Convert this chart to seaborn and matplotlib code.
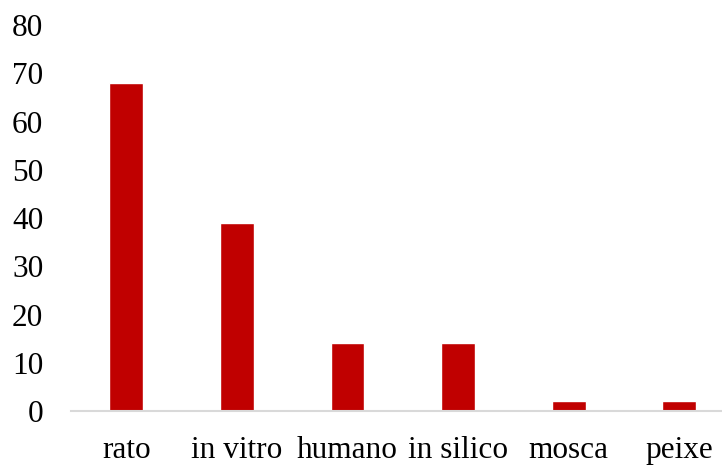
import pandas as pd
import numpy as np
import seaborn as sns
import matplotlib
matplotlib.use('Agg')
import matplotlib.pyplot as plt

categorias = ["rato", "in vitro", "humano", "in silico", "mosca", "peixe"]
valores = [68, 39, 14, 14, 2, 2]
yticks = [0, 10, 20, 30, 40, 50, 60, 70, 80]

df = pd.DataFrame({"categoria": categorias, "valor": valores})

sns.set_style("white")
plt.rcParams['font.family'] = ['Liberation Serif', 'DejaVu Serif']

fig = plt.figure(figsize=(7.22, 4.65), dpi=100)
ax = fig.add_axes([71/722, 1 - 411/465, 1 - 71/722, (411 - 25)/465])

sns.barplot(data=df, x="categoria", y="valor", color="#C00000", width=0.307,
            saturation=1, ax=ax)

ax.set_xlim(-0.5, 5.386)
ax.set_ylim(0, 80)
ax.set_yticks(yticks)
ax.set_xlabel("")
ax.set_ylabel("")
ax.tick_params(axis='both', length=0, labelsize=22.5, labelcolor='black')
ax.tick_params(axis='y', pad=20)
ax.tick_params(axis='x', pad=18)

for s in ['top', 'right', 'left']:
    ax.spines[s].set_visible(False)
ax.spines['bottom'].set_color('#D9D9D9')
ax.spines['bottom'].set_linewidth(1.5)

fig.savefig("out.png", dpi=100)
